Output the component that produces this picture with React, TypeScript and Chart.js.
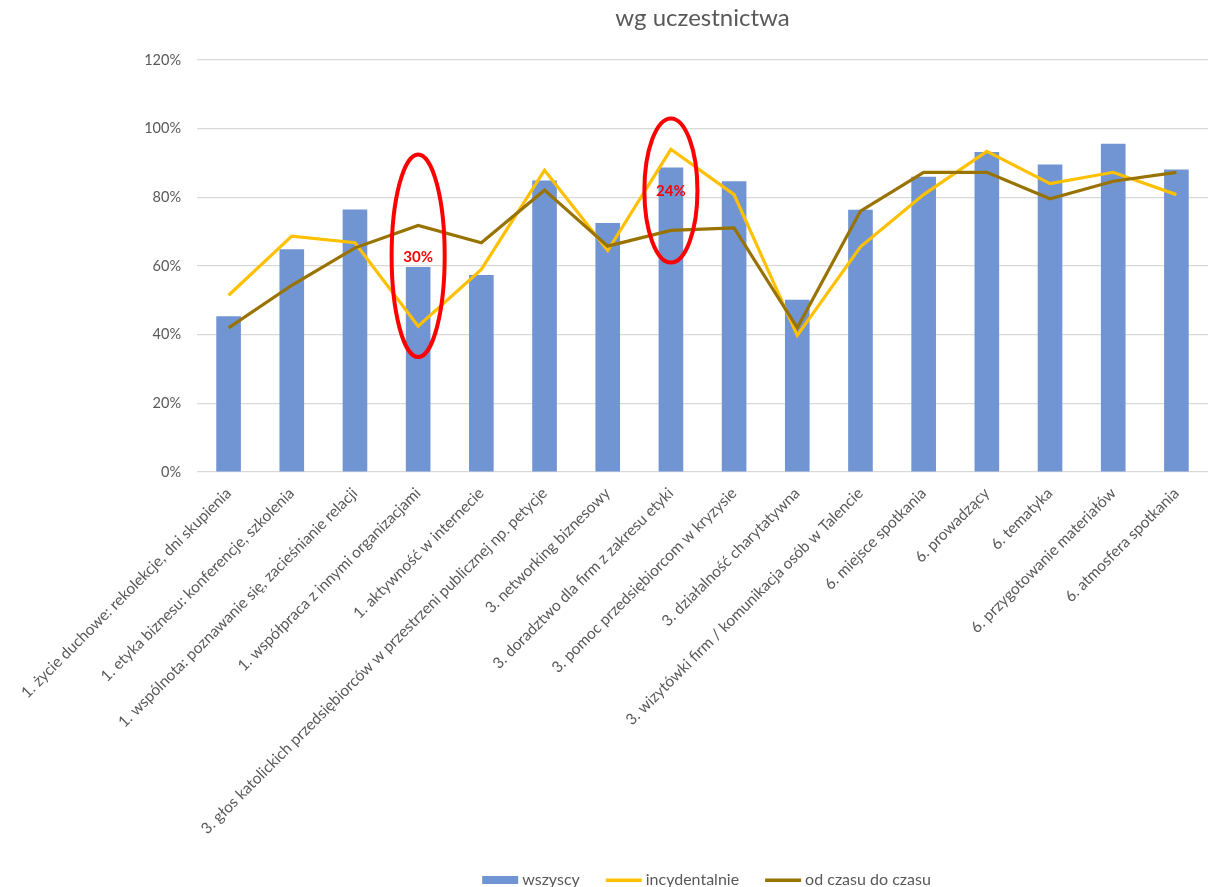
import { useEffect, useRef } from "react";
import { Chart, registerables } from "chart.js";
Chart.register(...registerables);

const chartTitle = "wg uczestnictwa";
const categories = [
  "1. życie duchowe: rekolekcje, dni skupienia",
  "1. etyka biznesu: konferencje, szkolenia",
  "1. wspólnota: poznawanie się, zacieśnianie relacji",
  "1. współpraca z innymi organizacjami",
  "1. aktywność w internecie",
  "3. głos katolickich przedsiębiorców w przestrzeni publicznej np. petycje",
  "3. networking biznesowy",
  "3. doradztwo dla firm z zakresu etyki",
  "3. pomoc przedsiębiorcom w kryzysie",
  "3. działalność charytatywna",
  "3. wizytówki firm / komunikacja osób w Talencie",
  "6. miejsce spotkania",
  "6. prowadzący",
  "6. tematyka",
  "6. przygotowanie materiałów",
  "6. atmosfera spotkania",
];
const seriesNames = ["wszyscy", "incydentalnie", "od czasu do czasu"];
const wszyscy = [45.4, 64.9, 76.5, 59.7, 57.4, 84.9, 72.5, 88.7, 84.7, 50.2, 76.4, 86.0, 93.2, 89.6, 95.6, 88.1];
const incydentalnie = [51.5, 68.7, 66.8, 42.5, 59.0, 87.9, 64.5, 94.0, 80.8, 39.8, 65.6, 80.8, 93.4, 84.0, 87.3, 80.8];
const odCzasuDoCzasu = [42.0, 54.4, 65.3, 71.8, 66.8, 82.1, 65.8, 70.4, 71.1, 42.0, 76.0, 87.3, 87.3, 79.6, 84.7, 87.3];
const yMax = 120;
const yStep = 20;
// annotations: category index, label text, ellipse centre value, half-height value
const highlightIndex = [3, 7];
const highlightText = ["30%", "24%"];
const highlightCenter = [63, 82];
const highlightHalf = [29.5, 21];

const FONT = "Lato, 'Liberation Sans', sans-serif";
const GREY = "#595959";
const BLUE = "#7195D3";
const YELLOW = "#FFC000";
const BROWN = "#997300";

const titlePlugin = {
  id: "customTitle",
  afterDraw(chart: any) {
    const { ctx, chartArea } = chart;
    ctx.save();
    ctx.fillStyle = GREY;
    ctx.font = `24px ${FONT}`;
    ctx.textAlign = "center";
    ctx.textBaseline = "middle";
    ctx.fillText(chartTitle, (chartArea.left + chartArea.right) / 2, 18);
    ctx.restore();
  },
};

const highlightPlugin = {
  id: "highlights",
  afterDatasetsDraw(chart: any) {
    const { ctx } = chart;
    const x = chart.scales.x;
    const y = chart.scales.y;
    ctx.save();
    highlightIndex.forEach((idx, i) => {
      const cx = x.getPixelForValue(idx);
      const cy = y.getPixelForValue(highlightCenter[i]);
      const ry = Math.abs(y.getPixelForValue(highlightCenter[i] + highlightHalf[i]) - cy);
      const rx = x.width / categories.length * 0.42;
      ctx.beginPath();
      ctx.ellipse(cx, cy, rx, ry, 0, 0, Math.PI * 2);
      ctx.strokeStyle = "#FF0000";
      ctx.lineWidth = 4;
      ctx.stroke();
      ctx.fillStyle = "#FF0000";
      ctx.font = `bold 15px ${FONT}`;
      ctx.textAlign = "center";
      ctx.textBaseline = "middle";
      ctx.fillText(highlightText[i], cx, cy + 1);
    });
    ctx.restore();
  },
};

const legendPlugin = {
  id: "customLegend",
  afterDraw(chart: any) {
    const { ctx, chartArea } = chart;
    ctx.save();
    ctx.font = `16px ${FONT}`;
    ctx.textBaseline = "middle";
    const sym = 36;
    const gapSym = 4;
    const gapItem = 26;
    const colors = [BLUE, YELLOW, BROWN];
    const widths = seriesNames.map((n) => sym + gapSym + ctx.measureText(n).width);
    const total = widths.reduce((a, b) => a + b, 0) + gapItem * (seriesNames.length - 1);
    let xPos = (chartArea.left + chartArea.right) / 2 - total / 2 + 4;
    const yPos = 880;
    seriesNames.forEach((n, i) => {
      ctx.fillStyle = colors[i];
      if (i === 0) {
        ctx.fillRect(xPos, yPos - 4, sym, 8);
      } else {
        ctx.fillRect(xPos, yPos - 1.5, sym, 3.5);
      }
      ctx.fillStyle = GREY;
      ctx.textAlign = "left";
      ctx.fillText(n, xPos + sym + gapSym, yPos);
      xPos += widths[i] + gapItem;
    });
    ctx.restore();
  },
};

export default function App() {
  const ref = useRef<HTMLCanvasElement | null>(null);
  useEffect(() => {
    if (!ref.current) return;
    const chart = new Chart(ref.current, {
      type: "bar",
      data: {
        labels: categories,
        datasets: [
          {
            type: "bar",
            label: seriesNames[0],
            data: wszyscy,
            backgroundColor: BLUE,
            barPercentage: 0.39,
            categoryPercentage: 1,
            order: 2,
          },
          {
            type: "line",
            label: seriesNames[1],
            data: incydentalnie,
            borderColor: YELLOW,
            backgroundColor: YELLOW,
            borderWidth: 3.2,
            pointRadius: 0,
            tension: 0,
            order: 1,
          },
          {
            type: "line",
            label: seriesNames[2],
            data: odCzasuDoCzasu,
            borderColor: BROWN,
            backgroundColor: BROWN,
            borderWidth: 3.2,
            pointRadius: 0,
            tension: 0,
            order: 0,
          },
        ] as any,
      },
      options: {
        animation: false,
        responsive: true,
        maintainAspectRatio: false,
        layout: { padding: { top: 60, bottom: 45, left: 0, right: 0 } },
        plugins: {
          legend: { display: false },
          title: { display: false },
          tooltip: { enabled: false },
        },
        scales: {
          x: {
            grid: { display: false },
            border: { display: false },
            ticks: {
              color: GREY,
              font: { family: FONT, size: 15.5 },
              maxRotation: 45,
              minRotation: 45,
              autoSkip: false,
              padding: 4,
            },
          },
          y: {
            min: 0,
            max: yMax,
            afterFit: (scale: any) => {
              scale.width = 197;
            },
            grid: { color: "#D9D9D9", drawTicks: false, lineWidth: 1.3 },
            border: { display: false },
            ticks: {
              stepSize: yStep,
              color: GREY,
              font: { family: FONT, size: 14.5 },
              padding: 16,
              callback: (v: any) => `${v}%`,
            },
          },
        },
      },
      plugins: [titlePlugin, highlightPlugin, legendPlugin],
    });
    return () => chart.destroy();
  }, []);
  return (
    <div style={{ position: "fixed", left: 0, top: 0, width: 1208, height: 887, background: "#fff" }}>
      <canvas ref={ref} />
    </div>
  );
}
